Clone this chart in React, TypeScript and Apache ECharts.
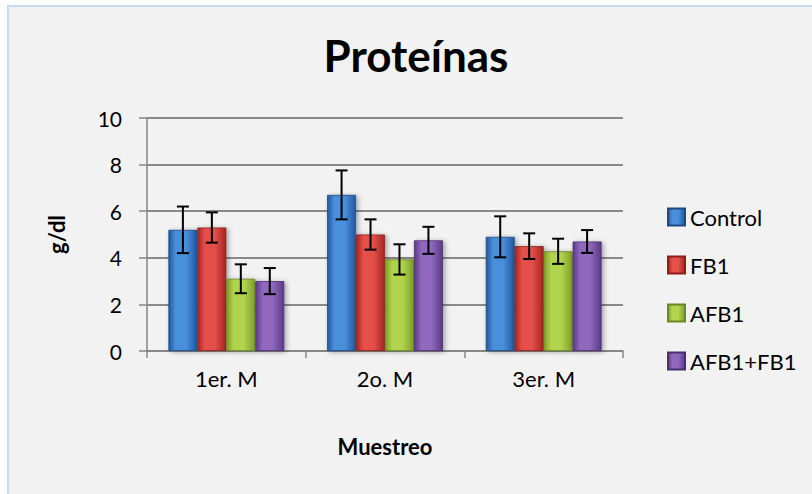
import React, { useEffect, useRef } from "react";
import * as echarts from "echarts";

const categories = ["1er. M", "2o. M", "3er. M"];
const seriesNames = ["Control", "FB1", "AFB1", "AFB1+FB1"];
const controlValues = [5.2, 6.7, 4.9];
const controlErrors = [1.0, 1.05, 0.88];
const fb1Values = [5.3, 5.0, 4.5];
const fb1Errors = [0.65, 0.65, 0.55];
const afb1Values = [3.1, 3.93, 4.28];
const afb1Errors = [0.62, 0.65, 0.54];
const mixValues = [3.0, 4.75, 4.7];
const mixErrors = [0.56, 0.58, 0.49];
const yTicks = [0, 2, 4, 6, 8, 10];

const FONT = "Lato, 'Open Sans', sans-serif";

const palettes = [
  { mid: "#4A90DC", edge: "#22589E", line: "#1D4A85" },
  { mid: "#E4504A", edge: "#A62522", line: "#8C1F1C" },
  { mid: "#B2D44E", edge: "#7E9F29", line: "#6A8722" },
  { mid: "#9068BE", edge: "#5B3A87", line: "#4A2F70" },
];

function barGradient(i: number) {
  const p = palettes[i];
  return new echarts.graphic.LinearGradient(0, 0, 1, 0, [
    { offset: 0, color: p.edge },
    { offset: 0.25, color: p.mid },
    { offset: 0.6, color: p.mid },
    { offset: 1, color: p.edge },
  ]);
}

export default function App() {
  const ref = useRef<HTMLDivElement>(null);
  useEffect(() => {
    if (!ref.current) return;
    const chart = echarts.init(ref.current, null, { renderer: "svg" });
    const values = [controlValues, fb1Values, afb1Values, mixValues];
    const errors = [controlErrors, fb1Errors, afb1Errors, mixErrors];
    const nSeries = seriesNames.length;
    const catGap = 0.27;

    const barSeries = seriesNames.map((name, i) => ({
      name,
      type: "bar",
      data: values[i],
      barGap: "0%",
      barCategoryGap: "27%",
      itemStyle: {
        color: barGradient(i),
        borderColor: palettes[i].line,
        borderWidth: 0.8,
        shadowColor: "rgba(0,0,0,0.35)",
        shadowBlur: 5,
        shadowOffsetX: 2,
        shadowOffsetY: 1,
      },
      z: 2,
    }));

    const errSeries = seriesNames.map((name, i) => ({
      name: name + " error",
      type: "custom",
      z: 5,
      data: values[i].map((v, k) => [k, v - errors[i][k], v + errors[i][k]]),
      renderItem: (params: any, api: any) => {
        const k = api.value(0);
        const lo = api.coord([k, api.value(1)]);
        const hi = api.coord([k, api.value(2)]);
        const band = api.size([1, 0])[0];
        const bw = (band * (1 - catGap)) / nSeries;
        const x = lo[0] + (i - (nSeries - 1) / 2) * bw;
        const cap = 6;
        const style = { stroke: "#000", lineWidth: 2 };
        return {
          type: "group",
          children: [
            { type: "line", shape: { x1: x, y1: hi[1], x2: x, y2: lo[1] }, style },
            { type: "line", shape: { x1: x - cap, y1: hi[1], x2: x + cap, y2: hi[1] }, style },
            { type: "line", shape: { x1: x - cap, y1: lo[1], x2: x + cap, y2: lo[1] }, style },
          ],
        };
      },
    }));

    const option: any = {
      animation: false,
      backgroundColor: "#F2F2F2",
      textStyle: { fontFamily: FONT },
      graphic: [
        { type: "rect", shape: { x: 0, y: 0, width: 812, height: 5 }, style: { fill: "#FFFFFF" }, z: 100 },
        { type: "rect", shape: { x: 0, y: 0, width: 7, height: 494 }, style: { fill: "#FFFFFF" }, z: 100 },
        { type: "line", shape: { x1: 7, y1: 6, x2: 812, y2: 6 }, style: { stroke: "#C6D9F1", lineWidth: 2 }, z: 100 },
        { type: "line", shape: { x1: 8, y1: 6, x2: 8, y2: 494 }, style: { stroke: "#C6D9F1", lineWidth: 2 }, z: 100 },
        {
          type: "text",
          x: 416,
          y: 33,
          style: { text: "Proteínas", font: `bold 44px ${FONT}`, fill: "#000", textAlign: "center" },
          z: 100,
        },
      ],
      legend: {
        orient: "vertical",
        left: 662,
        top: 201,
        itemWidth: 17,
        itemHeight: 17,
        itemGap: 26,
        icon: "rect",
        data: seriesNames,
        textStyle: { fontSize: 22, color: "#000", fontFamily: FONT },
      },
      grid: { left: 147, right: 189, top: 118, bottom: 143 },
      xAxis: {
        type: "category",
        data: categories,
        name: "Muestreo",
        nameLocation: "middle",
        nameGap: 84,
        nameTextStyle: { fontSize: 22, fontWeight: "bold", color: "#000", fontFamily: FONT },
        axisLine: { lineStyle: { color: "#868686", width: 1.5 } },
        axisTick: { show: true, length: 7, lineStyle: { color: "#868686", width: 1.5 } },
        axisLabel: { fontSize: 22, color: "#000", margin: 16, fontFamily: FONT },
      },
      yAxis: {
        type: "value",
        min: yTicks[0],
        max: yTicks[yTicks.length - 1],
        interval: 2,
        name: "g/dl",
        nameLocation: "middle",
        nameGap: 80,
        nameRotate: 90,
        nameTextStyle: { fontSize: 22, fontWeight: "bold", color: "#000", fontFamily: FONT },
        axisLine: { show: true, lineStyle: { color: "#868686", width: 1.5 } },
        axisTick: { show: true, length: 8, lineStyle: { color: "#868686", width: 1.5 } },
        axisLabel: { fontSize: 21, color: "#000", margin: 25, fontFamily: FONT },
        splitLine: { lineStyle: { color: "#898989", width: 2 } },
      },
      series: [...barSeries, ...errSeries],
    };
    chart.setOption(option);
    return () => chart.dispose();
  }, []);
  return (
    <div
      ref={ref}
      style={{ position: "fixed", left: 0, top: 0, width: 812, height: 494 }}
    />
  );
}
